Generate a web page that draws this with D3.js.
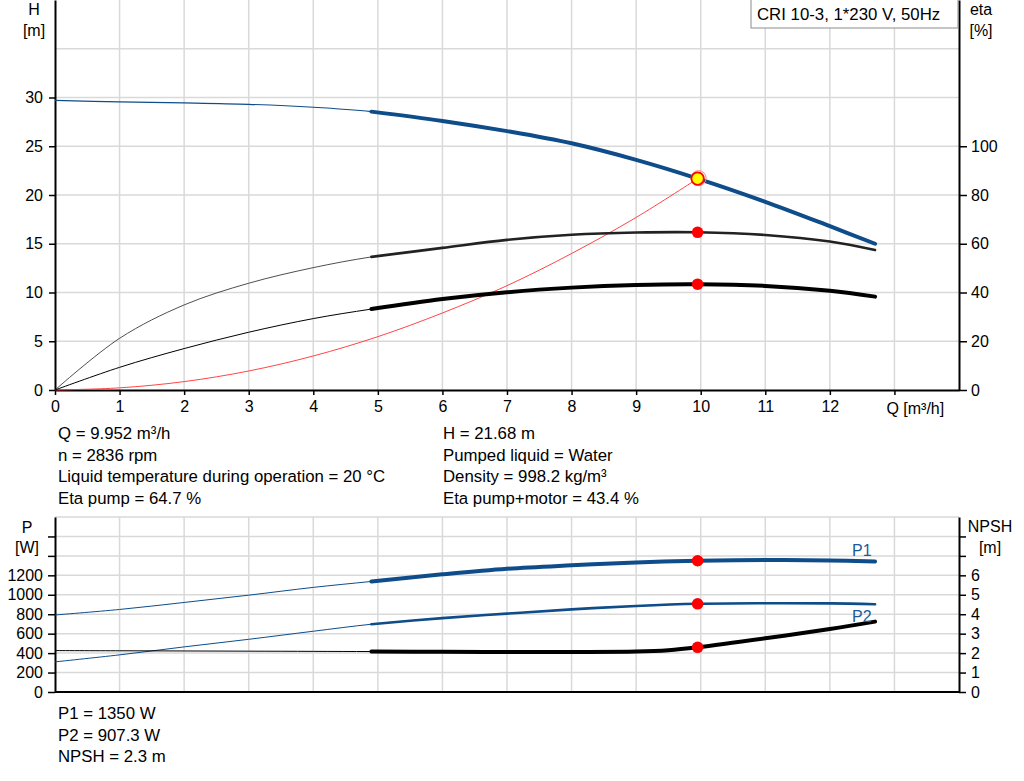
<!DOCTYPE html>
<html lang="en">
<head>
  <meta charset="UTF-8" />
  <title>CRI 10-3 pump curves</title>
  <script src="https://d3js.org/d3.v7.min.js"></script>
  <style>
    body {
      margin: 0;
      background: #fff;
      font-family: "Liberation Sans", Arial, sans-serif;
    }
    text {
      font-size: 16px;
      fill: #000;
    }
    .info text {
      font-size: 16.8px;
    }
    .grid line {
      stroke: #d9d9d9;
      stroke-width: 1.5px;
    }
  </style>
</head>
<body>

<svg id="chart" width="1024" height="781"></svg>

<script>
// flow points [m3/h] shared by the pump curves
const flow = [0, 1, 2, 3, 4, 4.9, 6, 7, 8, 9, 9.952, 11, 12, 12.7];
const head = [29.7, 29.55, 29.45, 29.3, 29.0, 28.55, 27.6, 26.55, 25.3, 23.6, 21.68, 19.3, 16.8, 15.0];
const etaPump = [0, 21.2, 34.9, 43.8, 50.2, 54.6, 58.3, 61.6, 63.7, 64.6, 64.7, 63.6, 60.9, 57.4];
const etaTotal = [0, 9.3, 17.0, 23.7, 29.3, 33.2, 37.3, 40.1, 42.0, 43.1, 43.4, 42.7, 40.7, 38.3];
const p1 = [792, 849, 921, 996, 1076, 1137, 1210, 1267, 1303, 1333, 1350, 1357, 1353, 1343];
const p2 = [310, 382, 464, 542, 625, 697, 760, 806, 850, 885, 907, 913, 912, 903];

const npshFlow = [0, 1, 2, 3, 4, 4.9, 6, 7, 8, 9, 9.5, 9.952, 11, 12, 12.7];
const npsh = [2.13, 2.12, 2.11, 2.1, 2.09, 2.08, 2.07, 2.06, 2.06, 2.08, 2.15, 2.3, 2.76, 3.24, 3.62];

// system curve up to the duty point
const sysFlow = [0, 1, 2, 3, 4, 5, 6, 7, 8, 9, 9.952];
const sysHead = [0, 0.22, 0.86, 1.95, 3.49, 5.47, 7.9, 10.7, 14.0, 17.7, 21.68];

const duty = {q: 9.952, h: 21.68, etaPump: 64.7, etaTotal: 43.4, p1: 1350, p2: 907.3, npsh: 2.3};
const thickFrom = 4.9;

const qTicks = [0, 1, 2, 3, 4, 5, 6, 7, 8, 9, 10, 11, 12];
const hTicks = [0, 5, 10, 15, 20, 25, 30];
const etaTicks = [0, 20, 40, 60, 80, 100];
const pTicks = [0, 200, 400, 600, 800, 1000, 1200];
const npshTicks = [0, 1, 2, 3, 4, 5, 6];

const infoLeft = ["Q = 9.952 m³/h", "n = 2836 rpm", "Liquid temperature during operation = 20 °C", "Eta pump = 64.7 %"];
const infoRight = ["H = 21.68 m", "Pumped liquid = Water", "Density = 998.2 kg/m³", "Eta pump+motor = 43.4 %"];
const infoBottom = ["P1 = 1350 W", "P2 = 907.3 W", "NPSH = 2.3 m"];

const blue = "#0e4c8a";
const svg = d3.select("#chart");

const x = d3.scaleLinear().domain([0, 14]).range([55, 959]);
const yH = d3.scaleLinear().domain([0, 40]).range([390, 0]);
const yEta = d3.scaleLinear().domain([0, 160]).range([390, 0]);
const yP = d3.scaleLinear().domain([0, 1800]).range([692, 517]);
const yN = d3.scaleLinear().domain([0, 9]).range([692, 517]);

// ---------- grids
function grid(yScale, yVals, top, bottom) {
  const g = svg.append("g").attr("class", "grid");
  g.selectAll("line.v")
    .data(d3.range(1, 14))
    .enter().append("line")
      .attr("x1", d => x(d)).attr("x2", d => x(d))
      .attr("y1", top).attr("y2", bottom);
  g.selectAll("line.h")
    .data(yVals)
    .enter().append("line")
      .attr("x1", x(0)).attr("x2", x(14))
      .attr("y1", d => yScale(d)).attr("y2", d => yScale(d));
}
grid(yH, [5, 10, 15, 20, 25, 30, 35], 0, 390);
grid(yP, [200, 400, 600, 800, 1000, 1200, 1400, 1600, 1800], 517, 692);

// ---------- axes
function styleAxis(g) {
  g.select(".domain").attr("stroke", "#000").attr("stroke-width", 2);
  g.selectAll(".tick line").attr("stroke", "#000").attr("stroke-width", 1.5);
  g.selectAll(".tick text").style("font-size", "16px").attr("fill", "#000");
}

svg.append("g")
  .attr("transform", `translate(${x(0)},0)`)
  .call(d3.axisLeft(yH).tickValues(hTicks).tickSize(6).tickSizeOuter(0).tickPadding(6))
  .call(styleAxis);

svg.append("g")
  .attr("transform", `translate(${x(14)},0)`)
  .call(d3.axisRight(yEta).tickValues(etaTicks).tickSize(8).tickSizeOuter(0).tickPadding(4))
  .call(styleAxis);

svg.append("g")
  .attr("transform", `translate(0,${yH(0)})`)
  .call(d3.axisBottom(x).tickValues(qTicks.concat([13])).tickSize(5).tickSizeOuter(0).tickPadding(6)
    .tickFormat(d => d === 13 ? "" : d))
  .call(styleAxis);

svg.append("text")
  .attr("x", x(13) - 8).attr("y", 414)
  .text("Q [m³/h]");

svg.append("g")
  .attr("transform", `translate(${x(0)},0)`)
  .call(d3.axisLeft(yP).tickValues(d3.range(0, 1800, 200)).tickSize(7).tickSizeOuter(0).tickPadding(5)
    .tickFormat(d => pTicks.includes(d) ? d : ""))
  .call(styleAxis);

svg.append("g")
  .attr("transform", `translate(${x(14)},0)`)
  .call(d3.axisRight(yN).tickValues(d3.range(0, 9)).tickSize(7).tickSizeOuter(0).tickPadding(5)
    .tickFormat(d => npshTicks.includes(d) ? d : ""))
  .call(styleAxis);

svg.append("line")
  .attr("x1", x(0)).attr("x2", x(14))
  .attr("y1", yP(0)).attr("y2", yP(0))
  .attr("stroke", "#000").attr("stroke-width", 2);

// axis titles
const titles = [
  {t: "H", x: 34, y: 15}, {t: "[m]", x: 34, y: 36},
  {t: "eta", x: 981, y: 15}, {t: "[%]", x: 981, y: 36},
  {t: "P", x: 27, y: 533}, {t: "[W]", x: 27, y: 553},
  {t: "NPSH", x: 990, y: 532}, {t: "[m]", x: 990, y: 553}
];
svg.selectAll("text.title")
  .data(titles)
  .enter().append("text")
    .attr("class", "title")
    .attr("x", d => d.x).attr("y", d => d.y)
    .attr("text-anchor", "middle")
    .text(d => d.t);

// ---------- curves
function drawCurve(yScale, xs, ys, color, thin, thick) {
  const pts = xs.map((q, i) => [q, ys[i]]);
  const line = d3.line()
    .x(d => x(d[0])).y(d => yScale(d[1]))
    .curve(d3.curveCatmullRom.alpha(0.5));
  svg.append("path")
    .attr("d", line(pts))
    .attr("fill", "none")
    .attr("stroke", color)
    .attr("stroke-width", thin);
  if (thick) {
    svg.append("path")
      .attr("d", line(pts.filter(d => d[0] >= thickFrom)))
      .attr("fill", "none")
      .attr("stroke", color)
      .attr("stroke-width", thick)
      .attr("stroke-linecap", "round");
  }
}

drawCurve(yH, sysFlow, sysHead, "#ff3030", 0.9, 0);
drawCurve(yEta, flow, etaPump, "#222", 0.8, 2.6);
drawCurve(yEta, flow, etaTotal, "#000", 1, 4);
drawCurve(yH, flow, head, blue, 1.2, 4);

drawCurve(yP, flow, p1, blue, 1, 4);
drawCurve(yP, flow, p2, blue, 1, 2.6);
drawCurve(yN, npshFlow, npsh, "#000", 1, 4);

// duty point markers
const redDots = [
  [yEta, duty.etaPump], [yEta, duty.etaTotal],
  [yP, duty.p1], [yP, duty.p2], [yN, duty.npsh]
];
svg.selectAll("circle.duty")
  .data(redDots)
  .enter().append("circle")
    .attr("class", "duty")
    .attr("cx", x(duty.q))
    .attr("cy", d => d[0](d[1]))
    .attr("r", 5.8)
    .attr("fill", "#ff0000");

svg.append("circle")
  .attr("cx", x(duty.q) + 1).attr("cy", yH(duty.h) - 0.5)
  .attr("r", 7.5)
  .attr("fill", "none")
  .attr("stroke", "#ff8080")
  .attr("stroke-width", 1);
svg.append("circle")
  .attr("cx", x(duty.q)).attr("cy", yH(duty.h))
  .attr("r", 6.2)
  .attr("fill", "#ffff00")
  .attr("stroke", "#ff0000")
  .attr("stroke-width", 1.8);

// curve labels
svg.append("text").attr("x", 852).attr("y", 556).style("fill", "#1d5a99").text("P1");
svg.append("text").attr("x", 852).attr("y", 622).style("fill", "#1d5a99").text("P2");

// ---------- legend box
svg.append("rect")
  .attr("x", 751).attr("y", -1)
  .attr("width", 207).attr("height", 29)
  .attr("fill", "#fff")
  .attr("stroke", "#8c8c8c")
  .attr("stroke-width", 1);
svg.append("text")
  .attr("x", 757).attr("y", 20)
  .style("font-size", "16.8px")
  .text("CRI 10-3, 1*230 V, 50Hz");

// ---------- info text
function info(lines, x0, y0) {
  svg.append("g").attr("class", "info").selectAll("text")
    .data(lines)
    .enter().append("text")
      .attr("x", x0)
      .attr("y", (d, i) => y0 + i * 21.7)
      .text(d => d);
}
info(infoLeft, 58, 439);
info(infoRight, 443, 439);
info(infoBottom, 58, 719);
</script>

</body>
</html>
